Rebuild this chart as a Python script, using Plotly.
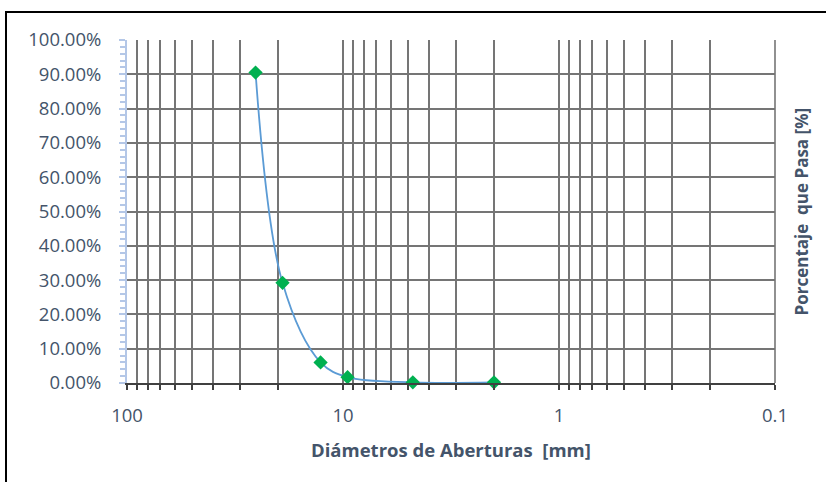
import plotly.graph_objects as go

# Data
diametros_mm = [25.4, 19.05, 12.7, 9.525, 4.75, 2.0]
porcentaje_pasa = [0.905, 0.292, 0.060, 0.017, 0.002, 0.002]
y_tick_vals = [i / 10 for i in range(11)]
y_tick_text = ["%.2f%%" % (v * 100) for v in y_tick_vals]

x_tick_vals = []
x_tick_text = []
for d in [0.1, 1, 10]:
    for m in range(1, 10):
        v = round(d * m, 6)
        x_tick_vals.append(v)
        x_tick_text.append(("%g" % v) if m == 1 else "")
x_tick_vals.append(100)
x_tick_text.append("100")

TXT = "#44546a"
FONT = "Open Sans"

fig = go.Figure()
fig.add_trace(go.Scatter(
    x=diametros_mm, y=porcentaje_pasa, mode="lines+markers",
    line=dict(color="#5b9bd5", width=1.8, shape="spline", smoothing=1.0),
    marker=dict(symbol="diamond", size=11, color="#00b050"),
    showlegend=False, cliponaxis=False,
))

W, H = 826, 482
L, R, T, B = 127, 51, 40, 99
PW, PH = W - L - R, H - T - B

fig.update_layout(
    width=W, height=H,
    margin=dict(l=L, r=R, t=T, b=B, autoexpand=False),
    paper_bgcolor="white", plot_bgcolor="white",
    font=dict(family=FONT, color=TXT, size=16),
    xaxis=dict(
        type="log", range=[2, -1], autorange=False,
        tickmode="array", tickvals=x_tick_vals, ticktext=x_tick_text,
        showgrid=True, gridcolor="#757575", gridwidth=1.6,
        showline=True, linecolor="#404040", linewidth=2,
        ticks="outside", ticklen=5, tickcolor="#404040", tickwidth=1.5,
        ticklabelstandoff=10,
        tickfont=dict(size=18.5, color=TXT, family=FONT),
        zeroline=False,
    ),
    yaxis=dict(
        range=[0, 1], autorange=False,
        tickmode="array", tickvals=y_tick_vals, ticktext=y_tick_text,
        showgrid=True, gridcolor="#757575", gridwidth=1.6,
        showline=True, linecolor="#b4c7e7", linewidth=2,
        ticks="outside", ticklen=6, tickcolor="#b4c7e7", tickwidth=1.5,
        minor=dict(ticks="outside", ticklen=5, dtick=0.02, tickcolor="#b4c7e7", tickwidth=1.5, showgrid=False),
        ticklabelstandoff=14,
        tickfont=dict(size=18.5, color=TXT, family=FONT),
        zeroline=False,
    ),
    shapes=[
        dict(type="line", xref="paper", yref="paper", x0=1, x1=1, y0=0, y1=1,
             line=dict(color="#757575", width=1.6)),
        dict(type="rect", xref="paper", yref="paper",
             x0=(6 - L) / PW, x1=(835 - L) / PW,
             y0=(H - B - 495) / PH, y1=1 + (T - 12) / PH,
             line=dict(color="black", width=2), fillcolor="rgba(0,0,0,0)", layer="below"),
    ],
    annotations=[
        dict(text="<b>Diámetros de Aberturas\u00a0 [mm]</b>", xref="paper", yref="paper",
             x=(451 - L) / PW, y=(H - B - 449) / PH, showarrow=False,
             font=dict(size=18.5, color=TXT, family=FONT), xanchor="center", yanchor="middle"),
        dict(text="<b>Porcentaje\u00a0 que Pasa [%]</b>", xref="paper", yref="paper",
             x=(801 - L) / PW, y=0.5, showarrow=False, textangle=-90,
             font=dict(size=17, color=TXT, family=FONT), xanchor="center", yanchor="middle"),
    ],
)

fig.write_html("out.html", config={"displayModeBar": False},
               post_script="document.body.style.margin='0px';")
